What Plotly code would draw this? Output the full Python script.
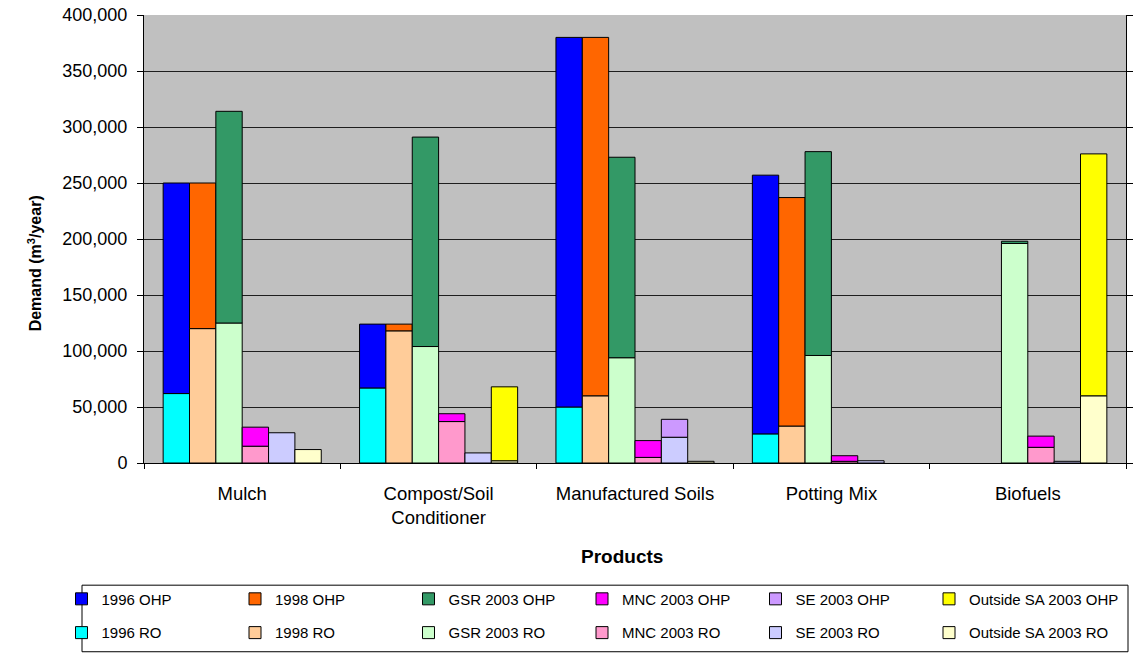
import plotly.graph_objects as go

# Product categories along the x axis
products = ["Mulch", "Compost/Soil<br>Conditioner", "Manufactured Soils", "Potting Mix", "Biofuels"]

# Demand (m3/year). RO is the lower segment, OHP is stacked on top of it.
ro_1996 = [62000, 67000, 50000, 26000, 0]
ohp_1996 = [188000, 57000, 330000, 231000, 0]

ro_1998 = [120000, 118000, 60000, 33000, 0]
ohp_1998 = [130000, 6000, 320000, 204000, 0]

ro_gsr_2003 = [125000, 104000, 94000, 96000, 196000]
ohp_gsr_2003 = [189000, 187000, 179000, 182000, 2000]

ro_mnc_2003 = [15000, 37000, 5000, 1500, 14000]
ohp_mnc_2003 = [17000, 7000, 15000, 5000, 10000]

ro_se_2003 = [27000, 9000, 23000, 2000, 1500]
ohp_se_2003 = [0, 0, 16000, 0, 0]

ro_outside_2003 = [12000, 2000, 1500, 0, 60000]
ohp_outside_2003 = [0, 66000, 0, 0, 216000]

group_labels = ["1996", "1998", "GSR 2003", "MNC 2003", "SE 2003", "Outside SA 2003"]
ro_colors = ["#00FFFF", "#FFCC99", "#CCFFCC", "#FF99CC", "#CCCCFF", "#FFFFCC"]
ohp_colors = ["#0000FF", "#FF6600", "#339966", "#FF00FF", "#CC99FF", "#FFFF00"]

ro_series = [ro_1996, ro_1998, ro_gsr_2003, ro_mnc_2003, ro_se_2003, ro_outside_2003]
ohp_series = [ohp_1996, ohp_1998, ohp_gsr_2003, ohp_mnc_2003, ohp_se_2003, ohp_outside_2003]


def blank_zero(values):
    return [v if v else None for v in values]


fig = go.Figure()
outline = dict(color="black", width=1)

for i, label in enumerate(group_labels):
    ro = ro_series[i]
    ohp = ohp_series[i]
    # the last legend column holds the longest names
    entry_w = 158 if i == len(group_labels) - 1 else None
    fig.add_trace(go.Bar(
        x=products, y=blank_zero(ro), offsetgroup=str(i),
        name=f"{label} RO", legend="legend2", legendwidth=entry_w,
        marker=dict(color=ro_colors[i], line=outline),
    ))
    fig.add_trace(go.Bar(
        x=products, y=blank_zero(ohp), base=ro, offsetgroup=str(i),
        name=f"{label} OHP", legend="legend", legendwidth=entry_w,
        marker=dict(color=ohp_colors[i], line=outline),
    ))

# plot area: x 144..1126 px, y 15..466 px
L, R, T, B = 144, 8, 15, 191
W, H = 1134, 657
pw, ph = W - L - R, H - T - B


def px_x(x):
    return (x - L) / pw


def px_y(y):
    return (H - B - y) / ph


legend_common = dict(
    orientation="h", xref="paper", yref="paper",
    x=px_x(61.5), xanchor="left", yanchor="middle",
    entrywidth=128.5, entrywidthmode="pixels",
    font=dict(size=15, color="black"),
    bgcolor="rgba(0,0,0,0)", borderwidth=0,
)

fig.update_layout(
    width=W, height=H,
    margin=dict(l=L, r=R, t=T, b=B),
    paper_bgcolor="white", plot_bgcolor="#C0C0C0",
    barmode="group", bargap=0.195, bargroupgap=0,
    font=dict(family="Liberation Sans, Arial, sans-serif", size=16, color="black"),
    xaxis=dict(
        showline=True, linecolor="black", linewidth=1,
        ticks="outside", ticklen=5, tickcolor="black", tickson="boundaries",
        showgrid=False, tickfont=dict(size=18.5), automargin=False,
        ticklabelstandoff=14,
    ),
    yaxis=dict(
        range=[0, 400000], dtick=50000, tickformat=",",
        showline=True, linecolor="black", linewidth=1,
        ticks="outside", ticklen=6, tickcolor="black", mirror="ticks",
        showgrid=True, gridcolor="#1e1e1e", gridwidth=1, zeroline=False,
        tickfont=dict(size=18), automargin=False, ticklabelstandoff=6,
    ),
    legend=dict(legend_common, y=px_y(603)),
    legend2=dict(legend_common, y=px_y(637)),
    shapes=[dict(
        type="rect", xref="paper", yref="paper",
        x0=px_x(82), x1=px_x(1128), y0=px_y(656), y1=px_y(589),
        line=dict(color="black", width=1), fillcolor="rgba(0,0,0,0)",
    )],
    annotations=[
        dict(text="<b>Demand (m<sup>3</sup>/year)</b>", textangle=-90,
             xref="paper", yref="paper", x=px_x(35), y=px_y(265),
             xanchor="center", yanchor="middle",
             showarrow=False, font=dict(size=16)),
        dict(text="<b>Products</b>", xref="paper", yref="paper",
             x=px_x(622), y=px_y(560), xanchor="center", yanchor="middle",
             showarrow=False, font=dict(size=19)),
    ],
)

fig.write_html("out.html")
